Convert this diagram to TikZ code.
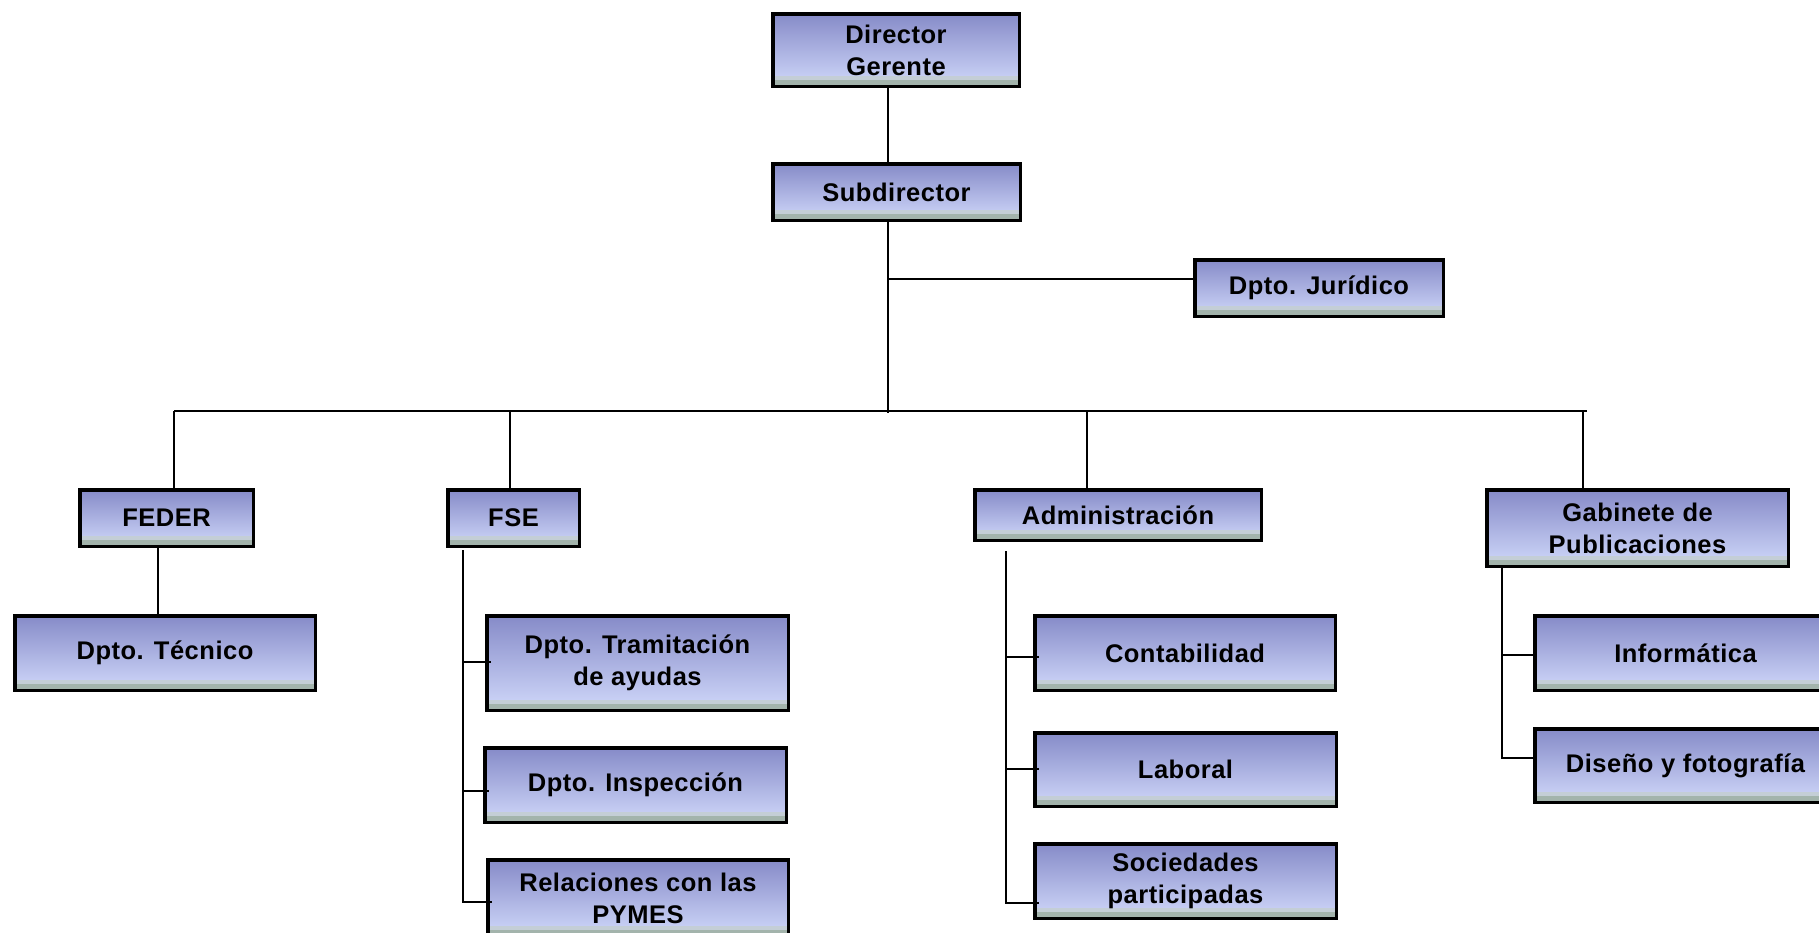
\documentclass[tikz,border=0pt]{standalone}
\usepackage{fontspec}
\setmainfont[LetterSpace=2]{Liberation Sans}
\usetikzlibrary{shadows}
\definecolor{boxtop}{RGB}{134,139,200}
\definecolor{boxbot}{RGB}{208,216,250}
\definecolor{stripA}{RGB}{196,206,214}
\definecolor{stripB}{RGB}{163,180,172}
\tikzset{
  orgbox/.style={draw=black, line width=3.5pt, top color=boxtop, bottom color=boxbot,
    inner sep=0pt, align=center, text=black,
    font=\bfseries\fontsize{25.5}{32}\selectfont,
    path picture={
      \fill[stripA] ([yshift=-1pt]path picture bounding box.south west) rectangle ([yshift=10pt]path picture bounding box.south east);
      \fill[stripB] ([yshift=-1pt]path picture bounding box.south west) rectangle ([yshift=6pt]path picture bounding box.south east);},
    drop shadow={shadow xshift=1.5pt, shadow yshift=-1.5pt, fill=black!25, opacity=1}},
  conn/.style={draw=black, line width=2pt}
}
\begin{document}
\begin{tikzpicture}[x=1pt,y=-1pt]
\useasboundingbox (0,0) rectangle (1819,932);
\clip (0,0) rectangle (1819,932);
% nodes
\node[orgbox, minimum width=246.5pt, minimum height=72.5pt] (dir) at (896,50) {Director\\Gerente};
\node[orgbox, minimum width=247.5pt, minimum height=56.5pt] (sub) at (896.5,192) {Subdirector};
\node[orgbox, minimum width=248.5pt, minimum height=56.5pt] (jur) at (1319,288) {Dpto. Jurídico};
\node[orgbox, minimum width=173.5pt, minimum height=56.5pt] (feder) at (166.5,518) {FEDER};
\node[orgbox, minimum width=131.5pt, minimum height=56.5pt] (fse) at (513.5,518) {FSE};
\node[orgbox, minimum width=286.5pt, minimum height=50.5pt] (adm) at (1118,515) {Administración};
\node[orgbox, minimum width=301.5pt, minimum height=76.5pt] (gab) at (1637.5,528) {Gabinete de\\Publicaciones};
\node[orgbox, minimum width=300.5pt, minimum height=74.5pt] (tec) at (165,653) {Dpto. Técnico};
\node[orgbox, minimum width=301.5pt, minimum height=94.5pt] (tram) at (637.5,663) {Dpto. Tramitación\\de ayudas};
\node[orgbox, minimum width=301.5pt, minimum height=74.5pt] (insp) at (635.5,785) {Dpto. Inspección};
\node[orgbox, minimum width=300.5pt, minimum height=76.5pt] (pym) at (638,898) {Relaciones con las\\PYMES};
\node[orgbox, minimum width=300.5pt, minimum height=74.5pt] (cont) at (1185,653) {Contabilidad};
\node[orgbox, minimum width=301.5pt, minimum height=73.5pt] (lab) at (1185.5,769.5) {Laboral};
\node[orgbox, minimum width=301.5pt, minimum height=74.5pt] (soc) at (1185.5,881) {Sociedades\\participadas};
\node[orgbox, minimum width=301.5pt, minimum height=74.5pt] (inf) at (1685.5,653) {Informática};
\node[orgbox, minimum width=301.5pt, minimum height=73.5pt] (dis) at (1685.5,765.5) {Diseño y fotografía};
% connectors
\coordinate (tx) at (888,0);
\coordinate (jb) at (888,279);
\coordinate (busc) at (888,413);
\draw[conn] (dir.south -| tx) -- (sub.north -| tx);
\draw[conn] (sub.south -| tx) -- (busc);
\draw[conn] (jb) -- (jb -| jur.west);
\coordinate (bL) at (174,411);
\coordinate (bR) at (1587,411);
\coordinate (dS) at (510,411);
\coordinate (dA) at (1087,411);
\coordinate (dG) at (1583,411);
\draw[conn] (bL) -- (bR);
\draw[conn] (bL) -- (bL |- feder.north);
\draw[conn] (dS) -- (dS |- fse.north);
\draw[conn] (dA) -- (dA |- adm.north);
\draw[conn] (dG) -- (dG |- gab.north);
% FEDER
\coordinate (fx) at (158,0);
\draw[conn] (feder.south -| fx) -- (tec.north -| fx);
% FSE
\coordinate (s0) at (463,550);
\coordinate (s1) at (463,662);
\coordinate (s2) at (463,791);
\coordinate (s3) at (463,902);
\draw[conn] (s0) -- (s3) -- ([xshift=6pt]s3 -| pym.west);
\draw[conn] (s1) -- ([xshift=6pt]s1 -| tram.west);
\draw[conn] (s2) -- ([xshift=6pt]s2 -| insp.west);
% Administracion
\coordinate (a0) at (1006,551);
\coordinate (a1) at (1006,657);
\coordinate (a2) at (1006,769);
\coordinate (a3) at (1006,903);
\draw[conn] (a0) -- (a3) -- ([xshift=6pt]a3 -| soc.west);
\draw[conn] (a1) -- ([xshift=6pt]a1 -| cont.west);
\draw[conn] (a2) -- ([xshift=6pt]a2 -| lab.west);
% Gabinete
\coordinate (g0) at (1502,568);
\coordinate (g1) at (1502,655);
\coordinate (g2) at (1502,758);
\draw[conn] (g0) -- (g2) -- (g2 -| dis.west);
\draw[conn] (g1) -- (g1 -| inf.west);
\end{tikzpicture}
\end{document}
